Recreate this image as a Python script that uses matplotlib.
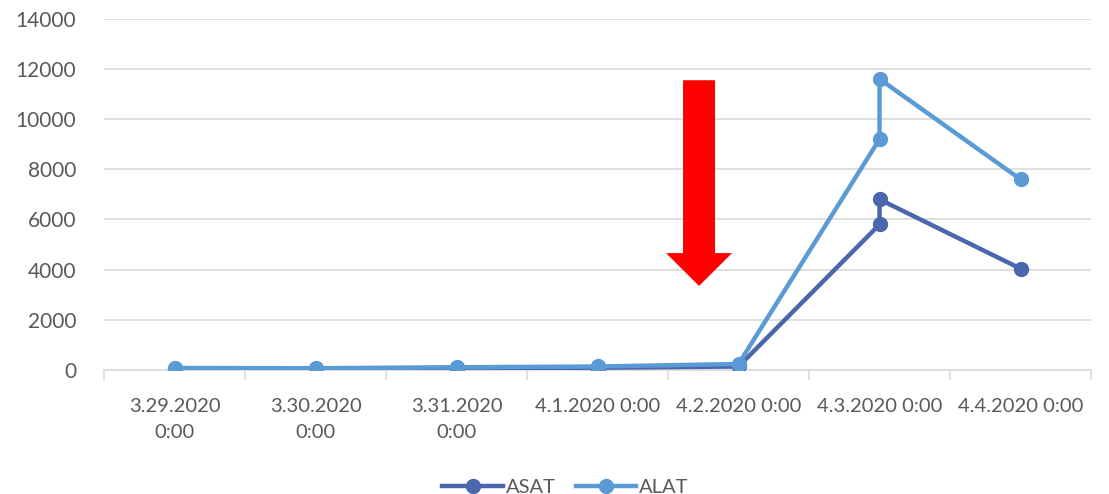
import matplotlib
matplotlib.use('Agg')
import matplotlib.pyplot as plt
from matplotlib.patches import FancyArrow

plt.rcParams['font.family'] = ['Lato', 'DejaVu Sans']

# Days on the axis (one category per day)
dias = ['3.29.2020', '3.30.2020', '3.31.2020', '4.1.2020', '4.2.2020', '4.3.2020', '4.4.2020']
dia_labels = ['3.29.2020\n0:00', '3.30.2020\n0:00', '3.31.2020\n0:00', '4.1.2020 0:00',
              '4.2.2020 0:00', '4.3.2020 0:00', '4.4.2020 0:00']

# Measurements (two readings on 4.3)
fechas_medicion = ['3.29.2020', '3.30.2020', '3.31.2020', '4.1.2020', '4.2.2020',
                   '4.3.2020', '4.3.2020', '4.4.2020']
asat = [60, 50, 80, 90, 140, 5800, 6800, 4040]
alat = [80, 70, 110, 140, 240, 9200, 11600, 7600]

x = [dias.index(d) for d in fechas_medicion]

fig = plt.figure(figsize=(11.09, 4.94), dpi=100)
ax = fig.add_axes([0.0938, 0.251, 0.89, 0.711])

ax.plot(x, asat, color='#4a66ac', lw=3.2, marker='o', ms=10, label='ASAT', zorder=3)
ax.plot(x, alat, color='#5b9bd5', lw=3.2, marker='o', ms=10, label='ALAT', zorder=4)

# red arrow marking the day of the event
ax.add_patch(FancyArrow(3.72, 11550, 0, -8200, width=0.227, head_width=0.468,
                        head_length=1310, length_includes_head=True,
                        color='#ff0000', lw=0, zorder=5))

ax.set_xlim(-0.5, len(dias) - 0.5)
ax.set_ylim(0, 14000)
ax.set_yticks(range(0, 14001, 2000))
ax.yaxis.grid(True, color='#d9d9d9', lw=1.2)
ax.set_axisbelow(True)

ax.set_xticks(range(len(dias)))
ax.set_xticklabels(dia_labels, fontsize=14.5, color='#595959', linespacing=1.65, va='top')
ax.set_xticks([i - 0.5 for i in range(len(dias) + 1)], minor=True)
ax.tick_params(axis='x', which='major', length=0, pad=20)
ax.tick_params(axis='x', which='minor', length=7, color='#d9d9d9', width=1.2)
ax.tick_params(axis='y', length=0, pad=20, labelsize=15, labelcolor='#595959')

for s in ['top', 'right', 'left']:
    ax.spines[s].set_visible(False)
ax.spines['bottom'].set_color('#d9d9d9')
ax.spines['bottom'].set_linewidth(1.2)

leg = fig.legend(loc='lower center', bbox_to_anchor=(0.51, -0.04), ncol=2, frameon=False,
                 fontsize=14.5, handlelength=3.0, columnspacing=1.0, handletextpad=0.15)
for t in leg.get_texts():
    t.set_color('#595959')

fig.savefig('out.png', dpi=100)
